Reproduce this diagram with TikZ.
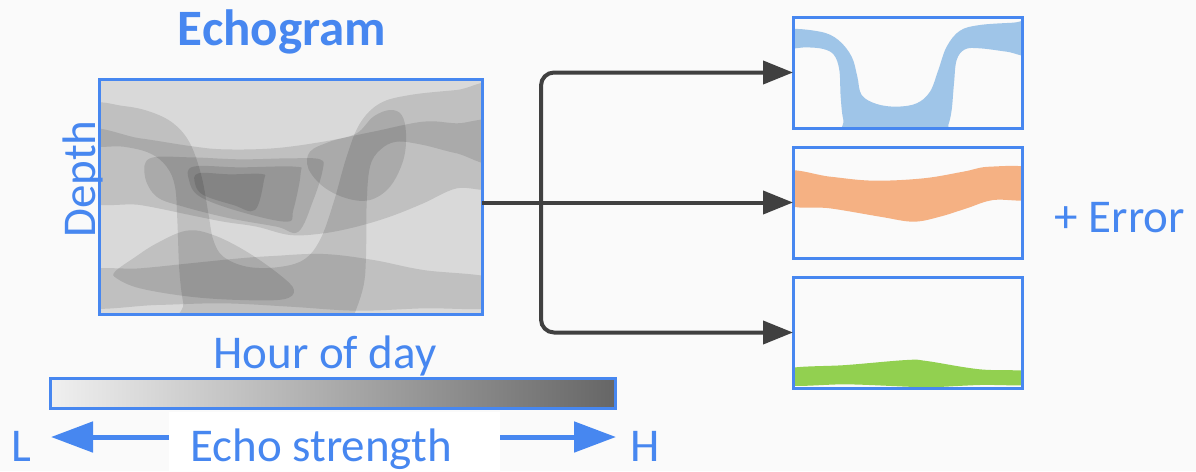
\documentclass[tikz,border=0pt]{standalone}
\usepackage{fontspec}
\setmainfont{Carlito}
\usetikzlibrary{arrows.meta}
\definecolor{bg}{HTML}{FAFAFA}
\definecolor{gblue}{HTML}{4787F0}
\definecolor{conncol}{HTML}{404040}
\definecolor{echobg}{HTML}{D9D9D9}
\definecolor{lblue}{HTML}{9FC5E8}
\definecolor{lorange}{HTML}{F5B183}
\definecolor{lgreen}{HTML}{92D050}
\definecolor{gradL}{HTML}{F0F0F0}
\definecolor{gradR}{HTML}{666666}
\begin{document}
\begin{tikzpicture}[x=1pt,y=-1pt,
  frame/.style={draw=gblue, line width=3pt, inner sep=0pt, outer sep=0pt},
  layer/.style={fill=black, fill opacity=0.115},
  connector/.style={draw=conncol, line width=4pt, -{Triangle[length=30pt,width=23pt]}},
  scalearrow/.style={draw=gblue, line width=5pt, -{Triangle[length=42pt,width=30pt]}},
  lbl/.style={text=gblue, font=\fontsize{47}{51}\selectfont, inner sep=0pt},
  sm/.style={smooth cycle, tension=0.6},
]
\fill[bg] (0,0) rectangle (1196,471);
\useasboundingbox (0,0) rectangle (1196,471);

% Echogram
\node[frame, fill=echobg, minimum width=383pt, minimum height=235pt] (echo) at (290.5,196.5) {};
\begin{scope}
\clip (echo.south west) rectangle (echo.north east);
\begin{scope}[shift={(90,70)}, x=0.33333pt, y=-0.33333pt]
% U band
\fill[layer] plot[sm] coordinates {(0,105) (100,108) (180,125) (250,160) (300,220) (335,320) (355,430) (370,510) (400,560) (470,590) (560,592) (640,570) (690,510) (730,400) (770,260) (810,160) (870,100) (960,75) (1100,60) (1220,50) (1220,270) (1100,250) (1000,225) (920,215) (870,240) (840,290) (830,400) (828,560) (820,650) (790,740) (770,770) (300,770) (280,700) (268,600) (262,450) (255,350) (230,290) (180,250) (100,230) (-20,220)};
% horizontal wavy band
\fill[layer] plot[sm] coordinates {(-20,185) (150,205) (300,228) (400,238) (550,235) (700,215) (850,185) (1000,155) (1100,160) (1220,162) (1220,345) (1100,355) (1000,400) (900,440) (800,470) (700,490) (600,495) (500,470) (400,455) (300,435) (150,405) (-20,385)};
% right oval
\fill[layer] plot[sm] coordinates {(900,120) (935,135) (948,190) (940,270) (900,350) (840,390) (770,385) (700,350) (655,295) (660,245) (720,215) (800,190) (850,140)};
% nested contours
\fill[layer] plot[sm] coordinates {(180,265) (300,262) (450,268) (600,265) (690,268) (698,300) (670,390) (625,485) (560,470) (420,445) (280,410) (200,380) (165,320)};
\fill[layer] plot[sm] coordinates {(310,290) (450,292) (615,290) (632,310) (610,420) (590,455) (450,425) (330,380) (297,330)};
\fill[layer] plot[sm] coordinates {(325,310) (420,313) (515,312) (522,330) (495,420) (430,405) (340,375) (315,340)};
% bottom band
\fill[layer] plot[sm] coordinates {(-20,605) (150,595) (300,580) (450,565) (550,558) (700,552) (850,570) (1000,600) (1220,628) (1220,710) (1000,715) (800,722) (600,710) (400,700) (200,705) (-20,710)};
% lower-left blob
\fill[layer] plot[sm] coordinates {(75,605) (130,565) (200,520) (290,482) (370,495) (470,545) (570,615) (612,660) (580,688) (450,690) (300,680) (150,655) (80,625)};
\end{scope}
\end{scope}
\draw[frame] (echo.south west) rectangle (echo.north east);

% output boxes
\node[frame, fill=bg, minimum width=229pt, minimum height=111pt] (b1) at (907.5,72.5) {};
\node[frame, fill=bg, minimum width=229pt, minimum height=111pt] (b2) at (907.5,202.5) {};
\node[frame, fill=bg, minimum width=229pt, minimum height=111pt] (b3) at (907.5,332.5) {};

\begin{scope}
\clip (b1.south west) rectangle (b1.north east);
\begin{scope}[shift={(780,10)}, x=0.33333pt, y=-0.33333pt]
\fill[lblue] plot[sm] coordinates {(20,60) (120,65) (175,90) (215,140) (232,200) (245,255) (290,282) (350,290) (410,280) (450,245) (475,180) (500,110) (540,62) (600,45) (700,38) (760,35) (760,135) (680,125) (600,115) (555,118) (530,150) (522,220) (515,300) (505,345) (490,380) (210,380) (190,330) (182,260) (178,180) (162,135) (130,117) (80,112) (20,112)};
\end{scope}
\end{scope}
\draw[frame] (b1.south west) rectangle (b1.north east);

\begin{scope}
\clip (b2.south west) rectangle (b2.north east);
\begin{scope}[shift={(780,140)}, x=0.33333pt, y=-0.33333pt]
\fill[lorange] plot[sm] coordinates {(20,95) (150,110) (280,122) (430,115) (550,95) (630,80) (760,88) (760,175) (640,180) (560,205) (480,230) (400,245) (300,230) (150,205) (20,192)};
\end{scope}
\end{scope}
\draw[frame] (b2.south west) rectangle (b2.north east);

\begin{scope}
\clip (b3.south west) rectangle (b3.north east);
\begin{scope}[shift={(780,270)}, x=0.33333pt, y=-0.33333pt]
\fill[lgreen] plot[sm] coordinates {(20,297) (200,285) (380,270) (440,273) (600,298) (760,305) (760,343) (600,345) (450,352) (380,350) (200,343) (20,345)};
\end{scope}
\end{scope}
\draw[frame] (b3.south west) rectangle (b3.north east);

% connectors
\draw[connector] (echo.east |- b2.west) -- (b2.west);
\path (echo.east |- b2.west) ++(59,0) coordinate (split);
\draw[connector, rounded corners=13pt] (split) |- (b1.west);
\draw[connector, rounded corners=13pt] (split) |- (b3.west);

% labels
\node[lbl, font=\bfseries\fontsize{51}{55}\selectfont, anchor=base] (title) at (282,45) {Echogram};
\node[lbl, rotate=90, anchor=base] (depth) at (95,179) {Depth};
\node[lbl, anchor=base] (hour) at (325,368) {Hour of day};
\node[lbl, anchor=base] (err) at (1120,232) {+ Error};

% scale bar
\node[frame, left color=gradL, right color=gradR, minimum width=565pt, minimum height=30pt] (bar) at (332.5,393) {};
\node[fill=white, inner sep=0pt, minimum width=331pt, minimum height=59pt] (lblbox) at (334.5,441.5) {};
\node[lbl, anchor=base] (es) at (321,461) {Echo strength};
\coordinate (ltip) at (51,437);
\coordinate (rtip) at (616,437);
\draw[scalearrow] (lblbox.west |- ltip) -- (ltip);
\draw[scalearrow] (lblbox.east |- rtip) -- (rtip);
\node[lbl, anchor=base] (lo) at (21,461) {L};
\node[lbl, anchor=base] (hi) at (645,461) {H};
\end{tikzpicture}
\end{document}
